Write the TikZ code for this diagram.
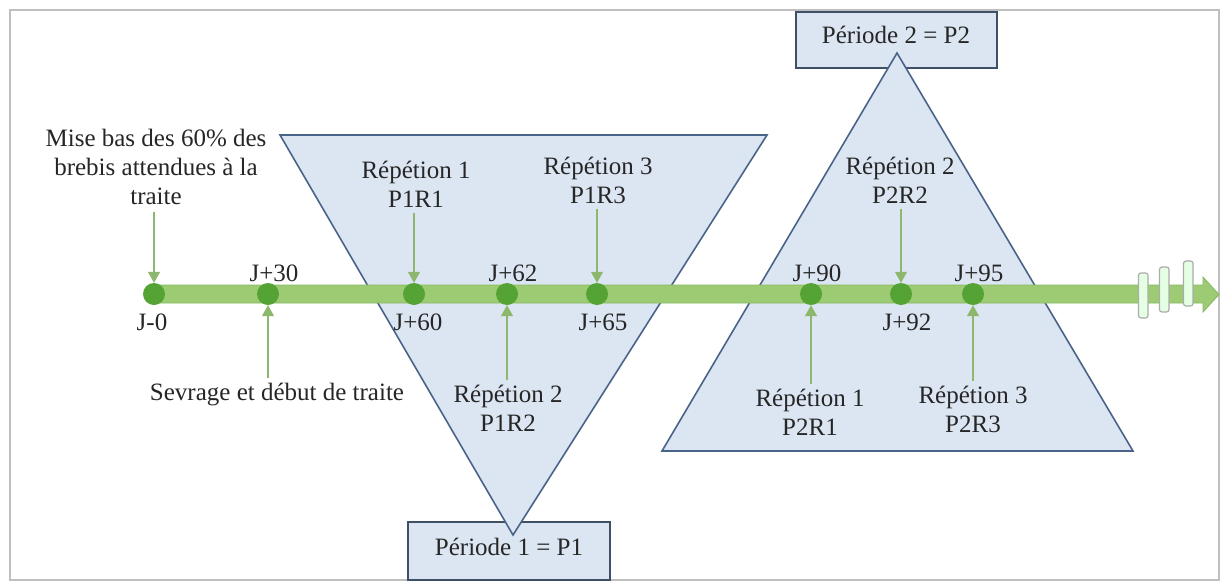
\documentclass[tikz,border=0pt]{standalone}
\usepackage{fontspec}
\setmainfont{Liberation Serif}
\usetikzlibrary{arrows.meta}
\definecolor{tribg}{HTML}{DCE6F2}
\definecolor{triedge}{HTML}{4A6489}
\definecolor{boxedge}{HTML}{3E4F66}
\definecolor{barfill}{HTML}{9CCB74}
\definecolor{baredge}{HTML}{86B960}
\definecolor{dotfill}{HTML}{55A334}
\definecolor{arrowcol}{HTML}{8DB76C}
\definecolor{txt}{HTML}{262626}
\definecolor{framecol}{HTML}{BFBFBF}
\tikzset{
  lbl/.style={font=\fontsize{25}{29}\selectfont, text=txt, inner sep=0pt, align=center, anchor=base},
  tri/.style={fill=tribg, draw=triedge, line width=1.6pt, line join=miter},
  perbox/.style={fill=tribg, draw=boxedge, line width=1.4pt},
  dotnode/.style={circle, fill=dotfill, minimum size=22pt, inner sep=0pt},
  garrow/.style={draw=arrowcol, line width=1.3pt, -{Triangle[length=11pt,width=12pt]}},
  brk/.style={fill=white!90!green, draw=gray!65, line width=1.2pt, rounded corners=2.5pt}
}
\begin{document}
\begin{tikzpicture}[x=1pt,y=-1pt]
\useasboundingbox (0,0) rectangle (1220,581);
\fill[white] (0,0) rectangle (1220,581);
\draw[framecol, line width=1.2pt] (10,10) rectangle (1219,580);

% period boxes
\draw[perbox] (408,522) rectangle (610,580);
\draw[perbox] (796,12) rectangle (997,68);

% triangles
\draw[tri] (280,135) -- (767,135) -- (513,535) -- cycle;
\draw[tri] (897,53) -- (1133,451) -- (662,451) -- cycle;

% period texts
\node[lbl] (p1) at (509,555) {Période 1 = P1};
\node[lbl] (p2) at (896,43) {Période 2 = P2};

% timeline bar
\fill[barfill, draw=baredge, line width=0.8pt] (150,285) -- (1203,285) -- (1203,277) -- (1219,294.5) -- (1203,312) -- (1203,303) -- (150,303) -- cycle;
\draw[brk] (1138.5,273) rectangle (1148,318);
\draw[brk] (1159.5,267) rectangle (1169,312);
\draw[brk] (1183.5,261) rectangle (1193,306);

% dots
\node[dotnode] (d0) at (154,294) {};
\node[dotnode] (d30) at (268,294) {};
\node[dotnode] (d60) at (414,294) {};
\node[dotnode] (d62) at (507,294) {};
\node[dotnode] (d65) at (597,294) {};
\node[dotnode] (d90) at (811,294) {};
\node[dotnode] (d92) at (901,294) {};
\node[dotnode] (d95) at (973,294) {};

% day labels
\node[lbl] (l0) at (152,330) {J-0};
\node[lbl] (l30) at (274,281) {J+30};
\node[lbl] (l60) at (418,330) {J+60};
\node[lbl] (l62) at (513,281) {J+62};
\node[lbl] (l65) at (603,330) {J+65};
\node[lbl] (l90) at (817,281) {J+90};
\node[lbl] (l92) at (907,330) {J+92};
\node[lbl] (l95) at (979,281) {J+95};

% event labels
\node[lbl] (mise) at (156,204) {Mise bas des 60\% des\\brebis attendues à la\\traite};
\node[lbl] (sev) at (277,400) {Sevrage et début de traite};
\node[lbl] (r11) at (416,207) {Répétion 1\\P1R1};
\node[lbl] (r12) at (508,431) {Répétion 2\\P1R2};
\node[lbl] (r13) at (598,203) {Répétion 3\\P1R3};
\node[lbl] (r21) at (810,435) {Répétion 1\\P2R1};
\node[lbl] (r22) at (900,203) {Répétion 2\\P2R2};
\node[lbl] (r23) at (973,432) {Répétion 3\\P2R3};

% arrows
\draw[garrow, shorten <=8pt] (mise.south -| d0) -- (d0.north);
\draw[garrow, shorten <=6pt] (r11.south -| d60) -- (d60.north);
\draw[garrow, shorten <=6pt] (r13.south -| d65) -- (d65.north);
\draw[garrow, shorten <=6pt] (r22.south -| d92) -- (d92.north);
\draw[garrow, shorten <=4pt] (sev.north -| d30) -- (d30.south);
\draw[garrow, shorten <=4pt] (r12.north -| d62) -- (d62.south);
\draw[garrow, shorten <=4pt] (r21.north -| d90) -- (d90.south);
\draw[garrow, shorten <=4pt] (r23.north -| d95) -- (d95.south);
\end{tikzpicture}
\end{document}
